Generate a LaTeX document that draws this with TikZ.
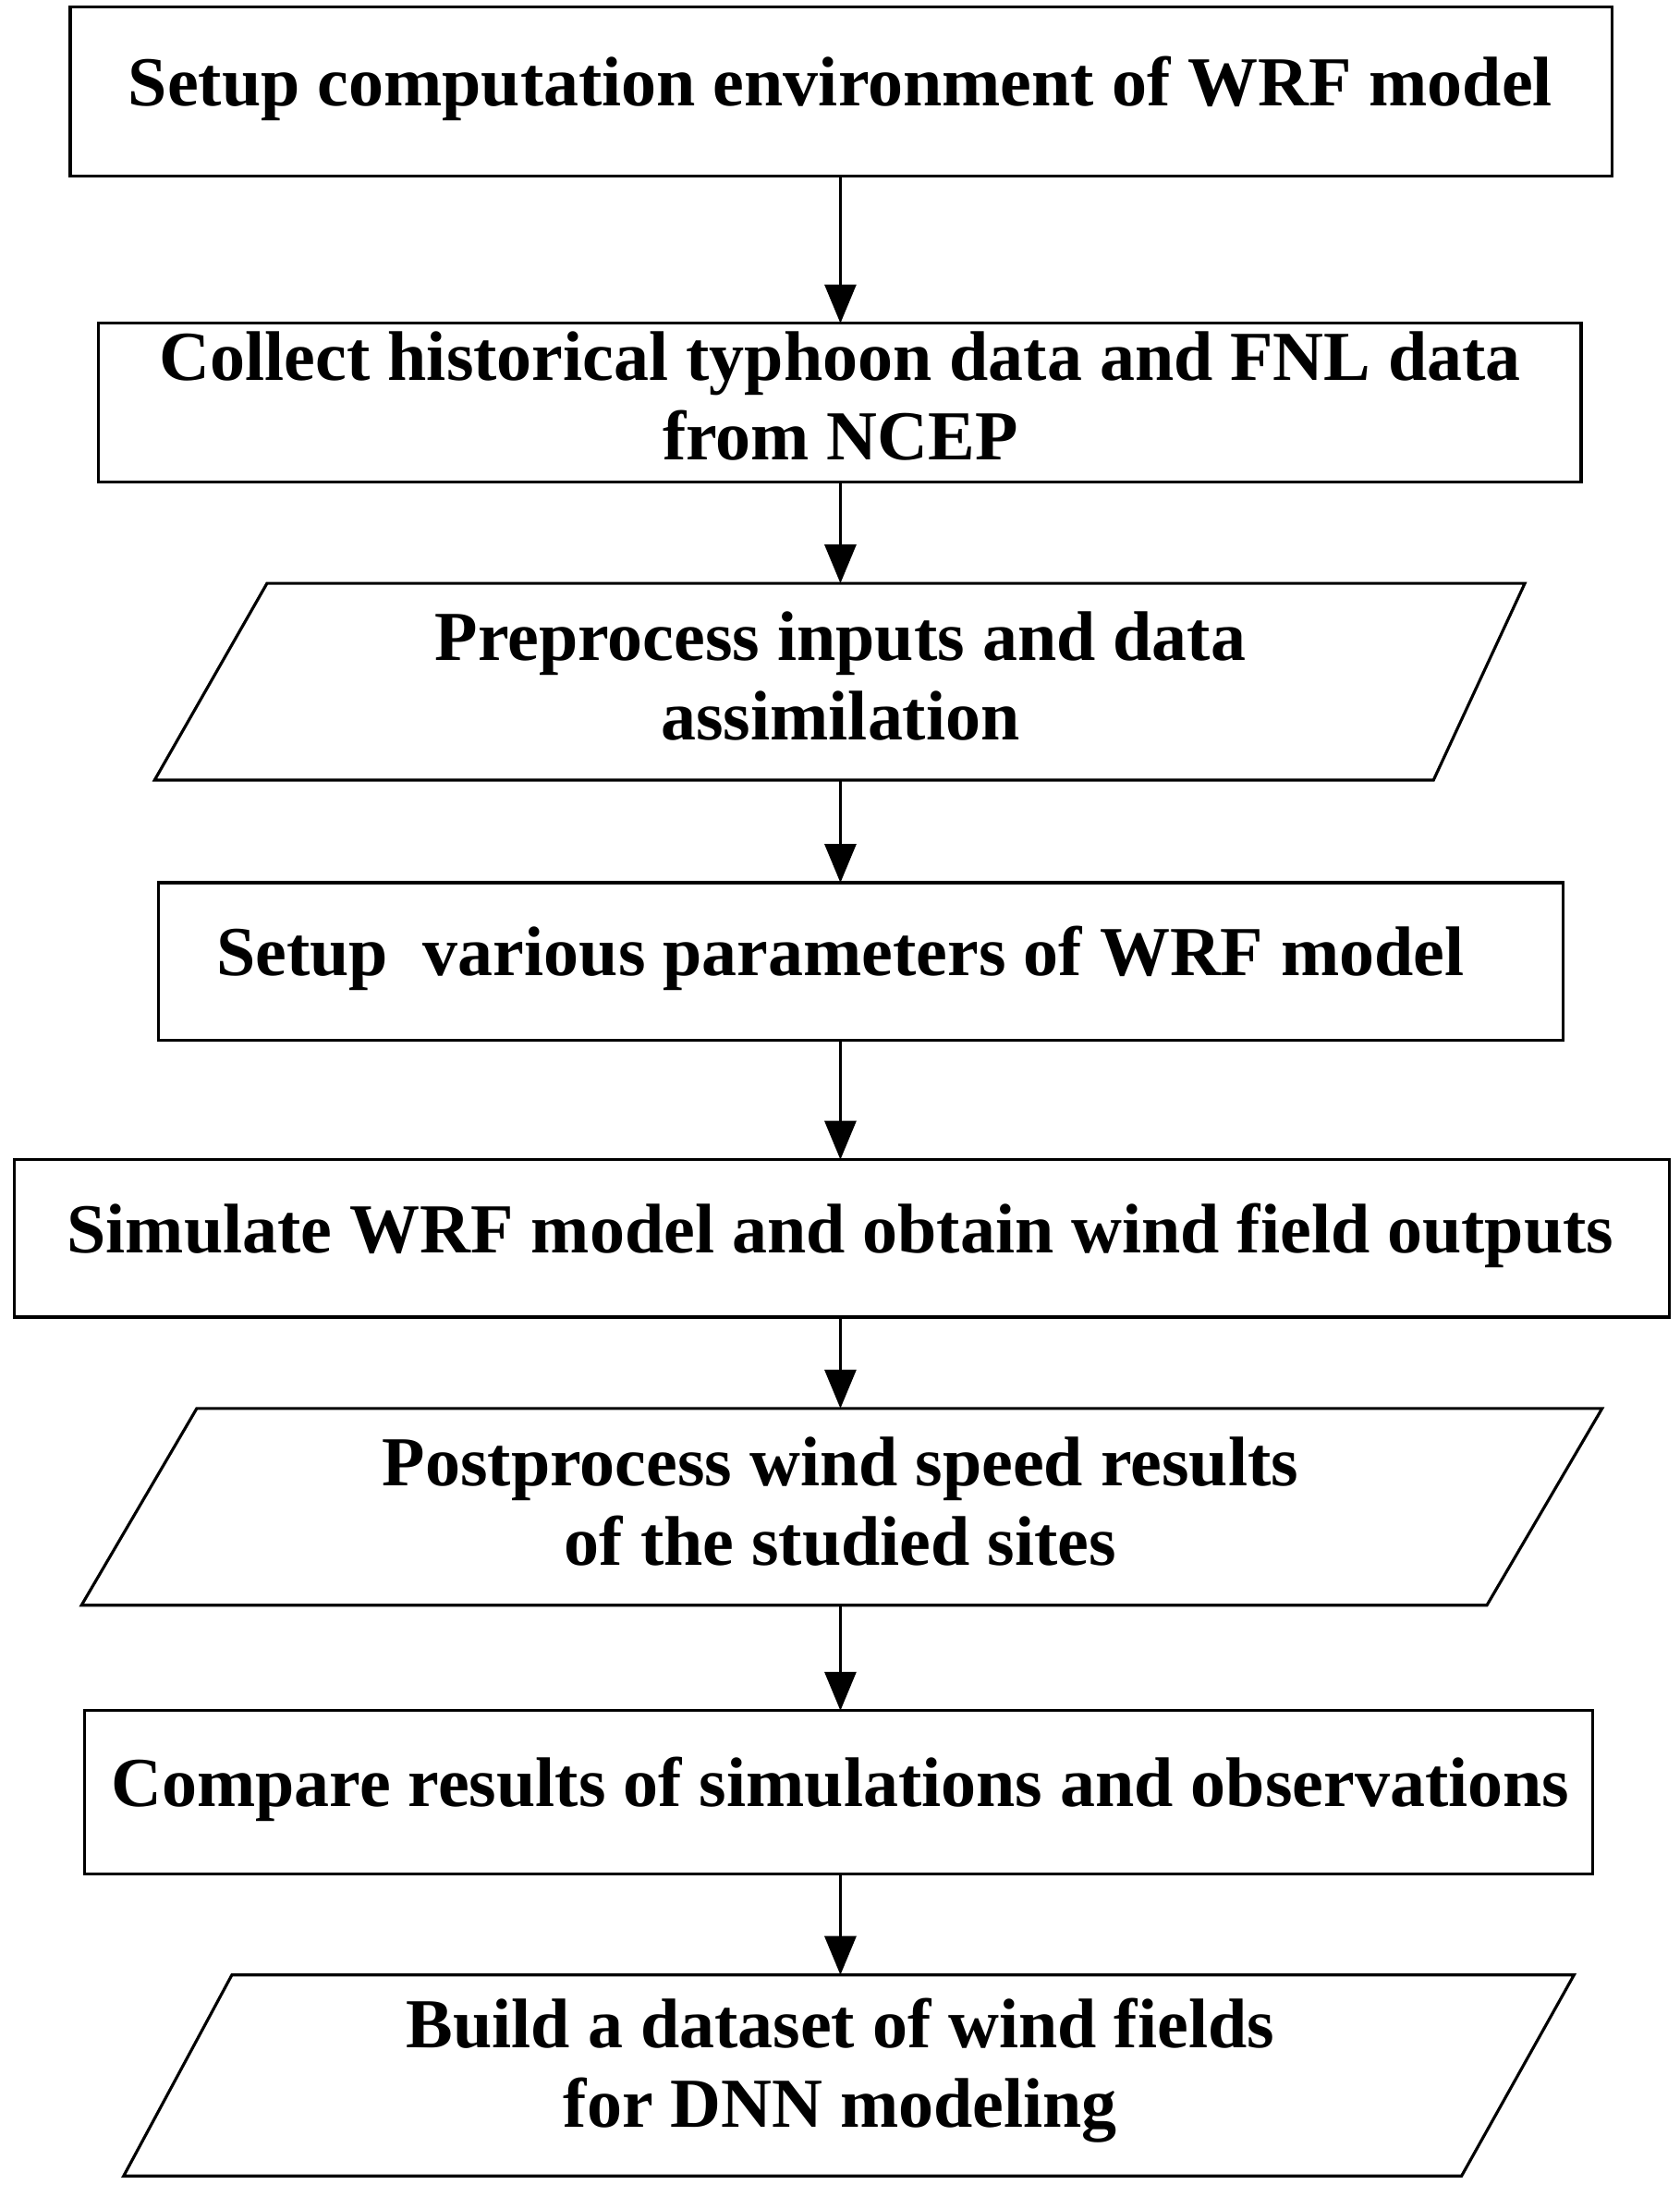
\documentclass[tikz,border=0pt]{standalone}
\usepackage{fontspec}
\setmainfont{Liberation Serif}
\usetikzlibrary{arrows.meta}
\begin{document}
\begin{tikzpicture}[x=0.0152cm,y=-0.0152cm,
  line width=0.9pt,
  txt/.style={inner sep=0pt,align=center,font=\fontsize{21.6pt}{24.5pt}\selectfont\bfseries},
  arr/.style={-{Triangle[length=0.42cm,width=0.34cm]}}]
\useasboundingbox (0,0) rectangle (1195,1563);
% boxes
\draw (50,5) rectangle (1147,125);
\node[txt] (b1) at (598,63) {Setup computation environment of WRF model};
\draw (70,230) rectangle (1125,343);
\node[txt] (b2) at (598,282) {Collect historical typhoon data and FNL data\\from NCEP};
\draw (190,415) -- (1085,415) -- (1020,555) -- (110,555) -- cycle;
\node[txt] (b3) at (598,481) {Preprocess inputs and data\\assimilation};
\draw (113,628) rectangle (1112,740);
\node[txt] (b4) at (598,682) {Setup\ \ various parameters of WRF model};
\draw (10,825) rectangle (1188,937);
\node[txt] (b5) at (598,879) {Simulate WRF model and obtain wind field outputs};
\draw (140,1002) -- (1140,1002) -- (1058,1142) -- (58,1142) -- cycle;
\node[txt] (b6) at (598,1068) {Postprocess wind speed results\\of the studied sites};
\draw (60,1217) rectangle (1133,1333);
\node[txt] (b7) at (598,1273) {Compare results of simulations and observations};
\draw (165,1405) -- (1120,1405) -- (1040,1548) -- (88,1548) -- cycle;
\node[txt] (b8) at (598,1473) {Build a dataset of wind fields\\for DNN modeling};
% anchor coordinates
\coordinate (s1) at (598,125); \coordinate (n2) at (598,230);
\coordinate (s2) at (598,343); \coordinate (n3) at (598,415);
\coordinate (s3) at (598,555); \coordinate (n4) at (598,628);
\coordinate (s4) at (598,740); \coordinate (n5) at (598,825);
\coordinate (s5) at (598,937); \coordinate (n6) at (598,1002);
\coordinate (s6) at (598,1142); \coordinate (n7) at (598,1217);
\coordinate (s7) at (598,1333); \coordinate (n8) at (598,1405);
\draw[arr] (s1) -- (n2);
\draw[arr] (s2) -- (n3);
\draw[arr] (s3) -- (n4);
\draw[arr] (s4) -- (n5);
\draw[arr] (s5) -- (n6);
\draw[arr] (s6) -- (n7);
\draw[arr] (s7) -- (n8);
\end{tikzpicture}
\end{document}
